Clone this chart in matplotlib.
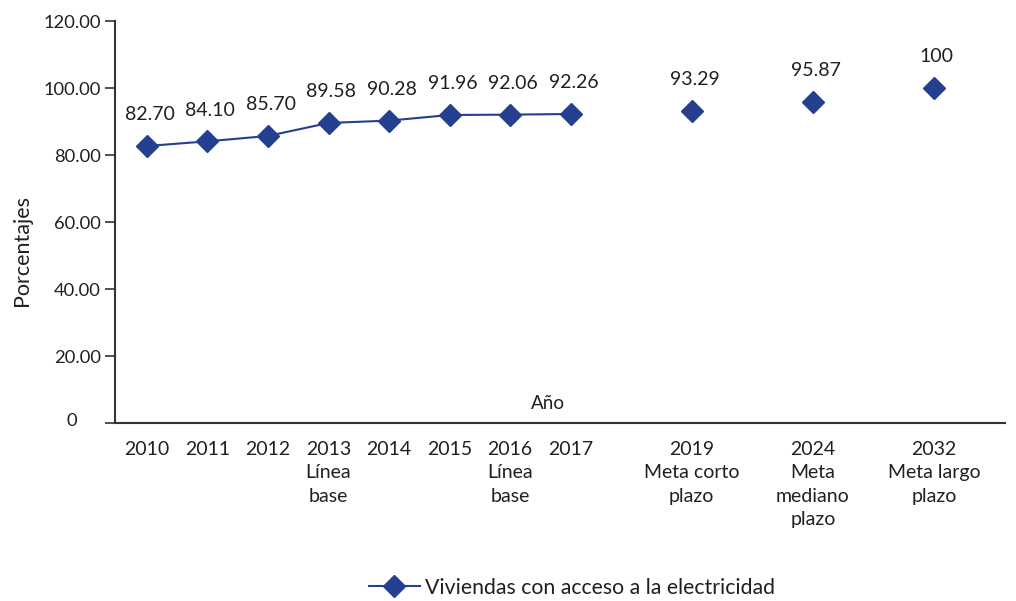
import matplotlib
matplotlib.use("Agg")
import matplotlib.pyplot as plt
from matplotlib.lines import Line2D

plt.rcParams['font.family'] = ['Lato', 'DejaVu Sans']

# Data
tick_labels = ["2010", "2011", "2012", "2013\nLínea\nbase", "2014", "2015",
               "2016\nLínea\nbase", "2017", "2019\nMeta corto\nplazo",
               "2024\nMeta\nmediano\nplazo", "2032\nMeta largo\nplazo"]
positions = [0, 1, 2, 3, 4, 5, 6, 7, 9, 11, 13]
values = [82.70, 84.10, 85.70, 89.58, 90.28, 91.96, 92.06, 92.26, 93.29, 95.87, 100]
value_labels = ["82.70", "84.10", "85.70", "89.58", "90.28", "91.96", "92.06",
                "92.26", "93.29", "95.87", "100"]
n_observed = 8  # 2010-2017 joined by a line; targets drawn as lone markers
y_ticks = [0, 20, 40, 60, 80, 100, 120]
y_tick_labels = ["0", "20.00", "40.00", "60.00", "80.00", "100.00", "120.00"]

blue = "#243F8F"
text_c = "#231F20"
axis_c = "#333333"
ms = 11.3

fig = plt.figure(figsize=(10.16, 6.01), dpi=100)
ax = fig.add_axes([0.113, 0.296, 0.876, 0.669])

ax.plot(positions[:n_observed], values[:n_observed], color=blue, lw=1.5,
        marker="D", ms=ms, mfc=blue, mec=blue, zorder=3)
ax.plot(positions[n_observed:], values[n_observed:], ls="none",
        marker="D", ms=ms, mfc=blue, mec=blue, zorder=3)

for x, v, s in zip(positions, values, value_labels):
    ax.annotate(s, (x, v), xytext=(2, 22.5), textcoords="offset points",
                ha="center", va="center", fontsize=14, color=text_c)

ax.set_xlim(-0.53, 14.17)
ax.set_ylim(0, 120)
ax.set_xticks(positions)
ax.set_xticklabels(tick_labels, fontsize=14, color=text_c, linespacing=1.45,
                   va="top")
ax.set_yticks(y_ticks)
ax.set_yticklabels(y_tick_labels, fontsize=13.2, color=text_c)
ax.tick_params(axis="x", length=0, pad=13)
ax.tick_params(axis="y", length=7, width=1.2, color=axis_c, pad=3)

# the zero label sits further left than the others
ax.get_yticklabels()[0].set_visible(False)
ax.text(-0.042, 0.005, "0", transform=ax.transAxes, ha="right", va="center",
        fontsize=13.2, color=text_c)

for side in ("top", "right"):
    ax.spines[side].set_visible(False)
for side in ("left", "bottom"):
    ax.spines[side].set_color(axis_c)
    ax.spines[side].set_linewidth(1.5)

ax.set_ylabel("Porcentajes", fontsize=15.5, color=text_c)
ax.yaxis.set_label_coords(-0.093, 0.43)
ax.text(0.487, 0.05, "Año", transform=ax.transAxes, ha="center", va="center",
        fontsize=13.5, color=text_c)

handle = Line2D([], [], color=blue, lw=1.5, marker="D", ms=ms,
                mfc=blue, mec=blue)
fig.legend([handle], ["Viviendas con acceso a la electricidad"],
           loc="center", bbox_to_anchor=(0.563, 0.022), frameon=False,
           fontsize=15.3, handlelength=2.4, handletextpad=0.25,
           labelcolor=text_c)

fig.savefig("out.png", dpi=100)
